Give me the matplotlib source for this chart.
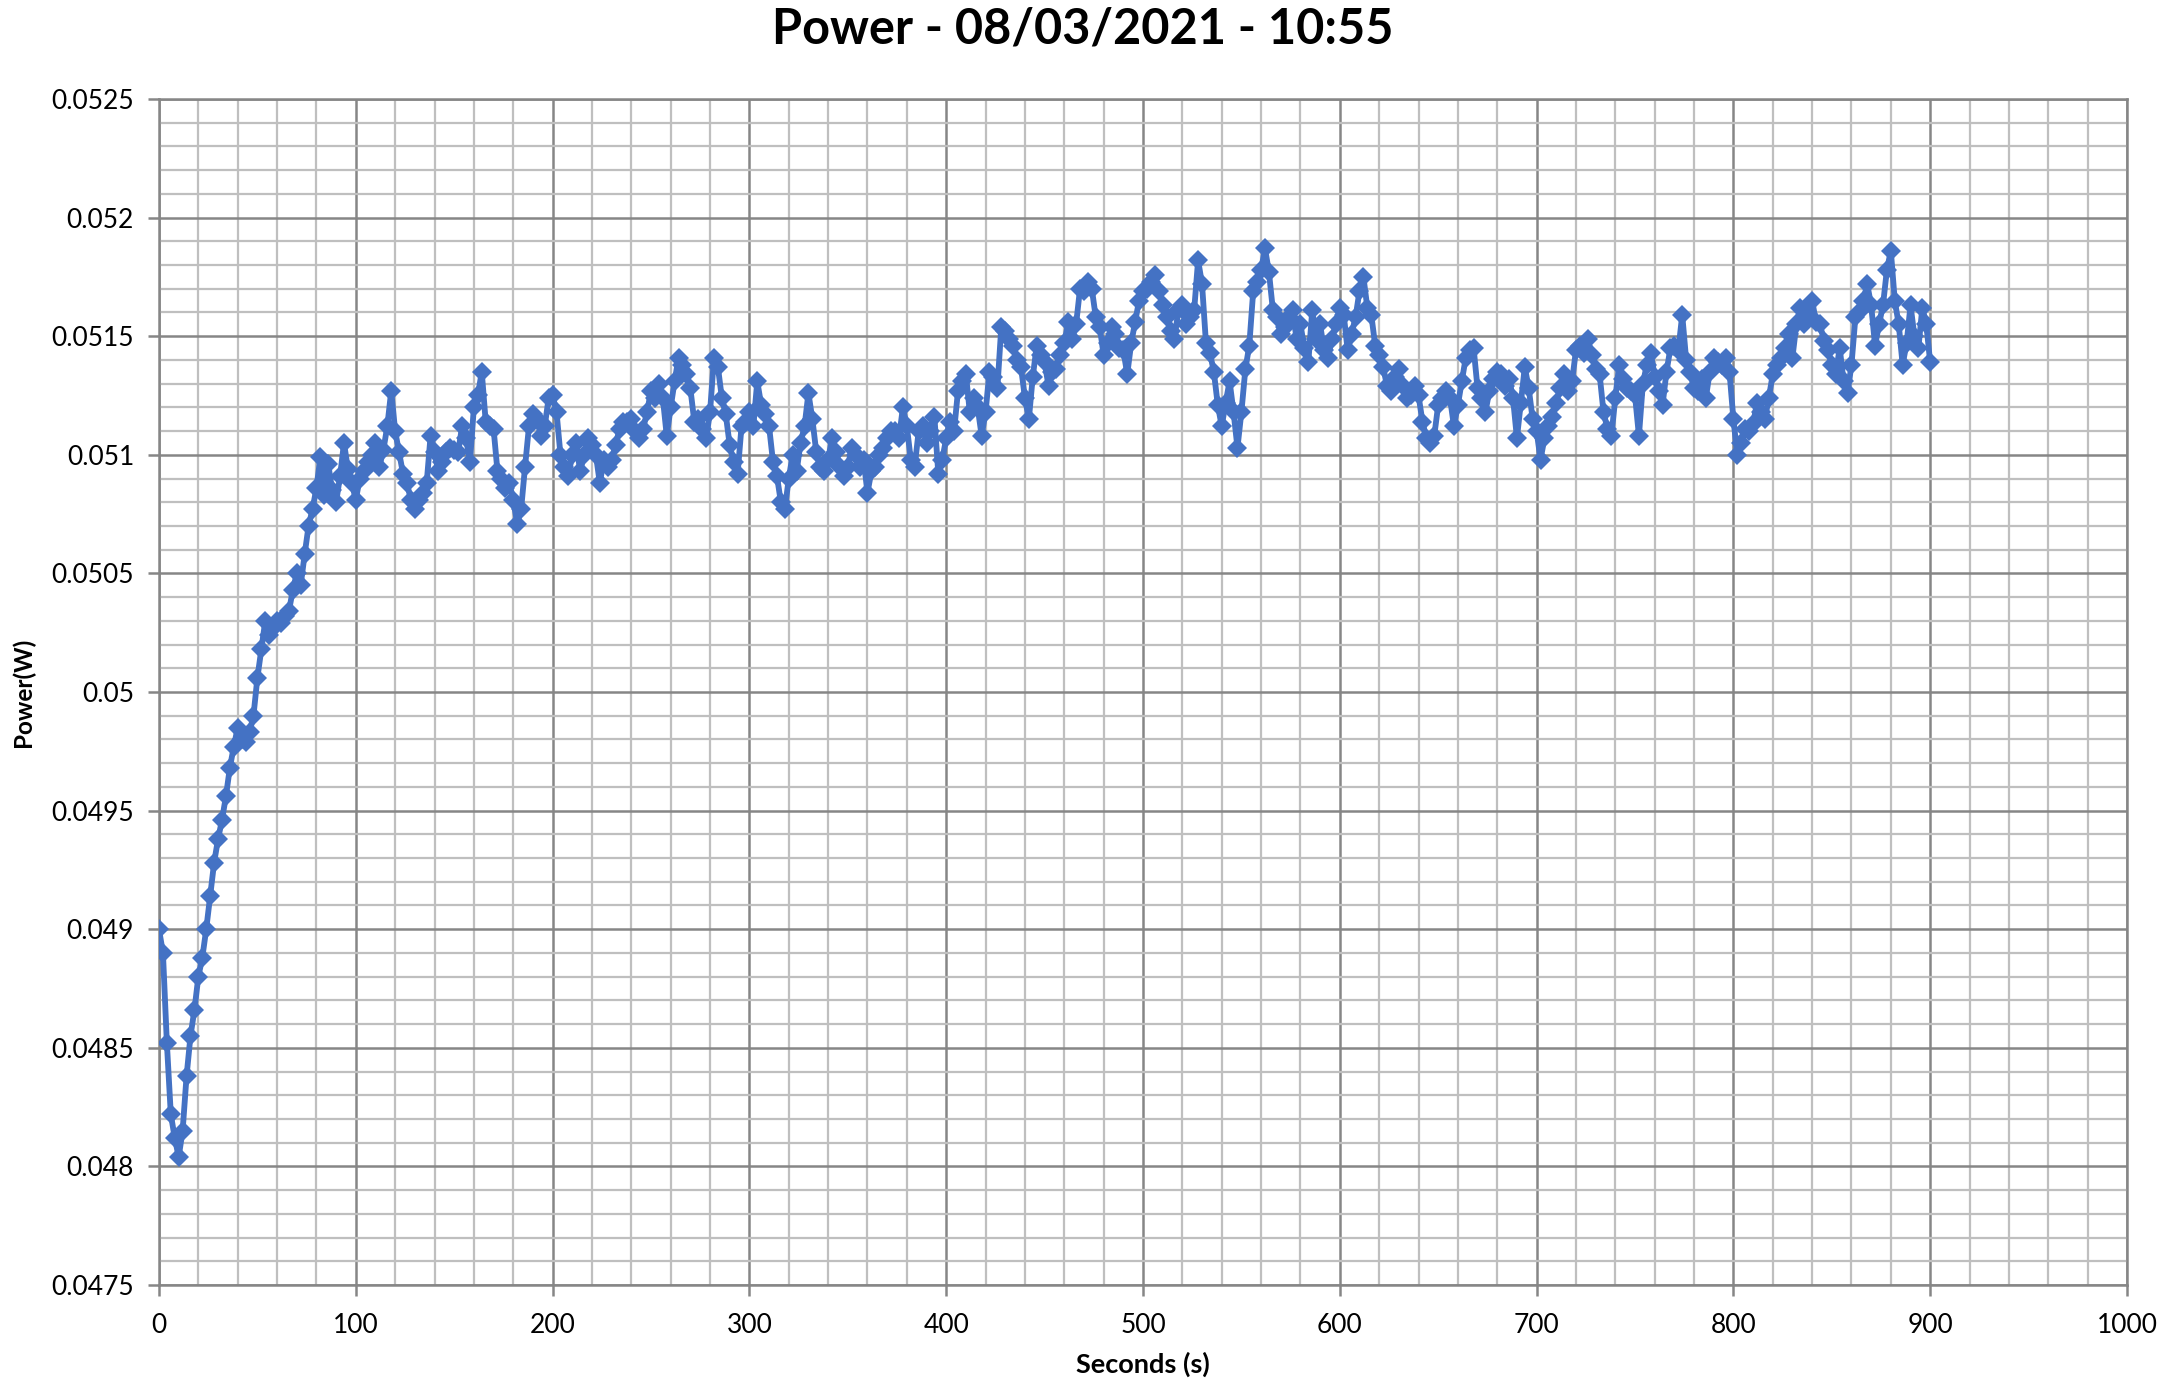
import numpy as np
import matplotlib
matplotlib.use("Agg")
import matplotlib.pyplot as plt
from matplotlib.ticker import MultipleLocator, FuncFormatter

plt.rcParams['font.family'] = ['Lato', 'DejaVu Sans']

title = "Power - 08/03/2021 - 10:55"
x_label = "Seconds (s)"
y_label = "Power(W)"

seconds = np.arange(0, 902, 2)

power = [
    0.04900, 0.04890, 0.04852, 0.04822, 0.04812, 0.04804, 0.04815, 0.04838, 0.04855, 0.04866,
    0.04880, 0.04888, 0.04900, 0.04914, 0.04928, 0.04938, 0.04946, 0.04956, 0.04968, 0.04977,
    0.04985, 0.04980, 0.04979, 0.04983, 0.04990, 0.05006, 0.05018, 0.05030, 0.05024, 0.05027,
    0.05030, 0.05029, 0.05032, 0.05034, 0.05043, 0.05050, 0.05045, 0.05058, 0.05070, 0.05077,
    0.05086, 0.05099, 0.05083, 0.05096, 0.05085, 0.05080, 0.05091, 0.05105, 0.05094, 0.05088,
    0.05081, 0.05090, 0.05093, 0.05097, 0.05100, 0.05105, 0.05095, 0.05102, 0.05112, 0.05127,
    0.05110, 0.05101, 0.05092, 0.05088, 0.05081, 0.05077, 0.05081, 0.05084, 0.05088, 0.05108,
    0.05101, 0.05093, 0.05097, 0.05101, 0.05103, 0.05102, 0.05101, 0.05112, 0.05107, 0.05097,
    0.05120, 0.05125, 0.05135, 0.05114, 0.05112, 0.05111, 0.05093, 0.05090, 0.05086, 0.05088,
    0.05081, 0.05071, 0.05077, 0.05095, 0.05112, 0.05117, 0.05115, 0.05108, 0.05112, 0.05124,
    0.05125, 0.05118, 0.05100, 0.05095, 0.05091, 0.05100, 0.05105, 0.05093, 0.05100, 0.05107,
    0.05104, 0.05100, 0.05088, 0.05098, 0.05095, 0.05098, 0.05104, 0.05111, 0.05114, 0.05114,
    0.05115, 0.05110, 0.05107, 0.05111, 0.05118, 0.05127, 0.05124, 0.05130, 0.05124, 0.05108,
    0.05120, 0.05131, 0.05141, 0.05138, 0.05134, 0.05128, 0.05114, 0.05115, 0.05111, 0.05107,
    0.05118, 0.05141, 0.05137, 0.05124, 0.05117, 0.05104, 0.05097, 0.05092, 0.05112, 0.05114,
    0.05118, 0.05112, 0.05131, 0.05121, 0.05117, 0.05112, 0.05097, 0.05091, 0.05080, 0.05077,
    0.05090, 0.05100, 0.05093, 0.05105, 0.05112, 0.05126, 0.05115, 0.05101, 0.05095, 0.05093,
    0.05098, 0.05107, 0.05101, 0.05095, 0.05091, 0.05095, 0.05103, 0.05100, 0.05095, 0.05098,
    0.05084, 0.05093, 0.05095, 0.05100, 0.05103, 0.05107, 0.05110, 0.05110, 0.05107, 0.05120,
    0.05112, 0.05098, 0.05095, 0.05110, 0.05112, 0.05105, 0.05110, 0.05116, 0.05092, 0.05098,
    0.05107, 0.05114, 0.05110, 0.05127, 0.05131, 0.05134, 0.05118, 0.05124, 0.05120, 0.05108,
    0.05118, 0.05135, 0.05133, 0.05128, 0.05154, 0.05152, 0.05149, 0.05146, 0.05140, 0.05137,
    0.05124, 0.05115, 0.05133, 0.05146, 0.05142, 0.05139, 0.05129, 0.05135, 0.05136, 0.05142,
    0.05147, 0.05156, 0.05149, 0.05155, 0.05170, 0.05169, 0.05173, 0.05170, 0.05158, 0.05154,
    0.05142, 0.05147, 0.05154, 0.05151, 0.05145, 0.05144, 0.05134, 0.05147, 0.05156, 0.05165,
    0.05169, 0.05170, 0.05173, 0.05176, 0.05169, 0.05163, 0.05158, 0.05152, 0.05149, 0.05161,
    0.05163, 0.05155, 0.05158, 0.05161, 0.05182, 0.05172, 0.05147, 0.05143, 0.05135, 0.05121,
    0.05112, 0.05122, 0.05131, 0.05118, 0.05103, 0.05118, 0.05136, 0.05146, 0.05169, 0.05173,
    0.05178, 0.05187, 0.05177, 0.05161, 0.05158, 0.05151, 0.05154, 0.05158, 0.05161, 0.05149,
    0.05155, 0.05145, 0.05139, 0.05161, 0.05149, 0.05155, 0.05144, 0.05141, 0.05149, 0.05155,
    0.05162, 0.05159, 0.05144, 0.05151, 0.05158, 0.05169, 0.05175, 0.05162, 0.05159, 0.05146,
    0.05142, 0.05137, 0.05129, 0.05127, 0.05133, 0.05136, 0.05129, 0.05124, 0.05125, 0.05129,
    0.05125, 0.05114, 0.05107, 0.05105, 0.05108, 0.05121, 0.05124, 0.05127, 0.05124, 0.05112,
    0.05121, 0.05131, 0.05141, 0.05144, 0.05145, 0.05128, 0.05124, 0.05118, 0.05127, 0.05132,
    0.05135, 0.05134, 0.05129, 0.05132, 0.05124, 0.05107, 0.05122, 0.05137, 0.05128, 0.05115,
    0.05110, 0.05098, 0.05107, 0.05112, 0.05116, 0.05122, 0.05128, 0.05134, 0.05127, 0.05131,
    0.05144, 0.05146, 0.05143, 0.05149, 0.05142, 0.05136, 0.05134, 0.05118, 0.05111, 0.05108,
    0.05124, 0.05138, 0.05132, 0.05128, 0.05127, 0.05125, 0.05108, 0.05130, 0.05138, 0.05143,
    0.05133, 0.05127, 0.05121, 0.05135, 0.05145, 0.05146, 0.05144, 0.05159, 0.05140, 0.05135,
    0.05128, 0.05127, 0.05132, 0.05124, 0.05135, 0.05141, 0.05139, 0.05138, 0.05141, 0.05135,
    0.05115, 0.05100, 0.05105, 0.05111, 0.05110, 0.05113, 0.05122, 0.05118, 0.05115, 0.05124,
    0.05134, 0.05138, 0.05141, 0.05145, 0.05151, 0.05141, 0.05155, 0.05162, 0.05155, 0.05158,
    0.05165, 0.05156, 0.05155, 0.05148, 0.05144, 0.05138, 0.05134, 0.05145, 0.05131, 0.05126,
    0.05138, 0.05158, 0.05160, 0.05165, 0.05172, 0.05163, 0.05146, 0.05155, 0.05163, 0.05178,
    0.05186, 0.05165, 0.05155, 0.05138, 0.05147, 0.05163, 0.05150, 0.05145, 0.05162, 0.05155,
    0.05139,
]

line_color = "#4472C4"
major_grid = "#868686"
minor_grid = "#BFBFBF"

fig = plt.figure(figsize=(21.65, 13.92), dpi=100)
ax = fig.add_axes([159 / 2165, 1 - 1285 / 1392, (2127 - 159) / 2165, (1285 - 99) / 1392])

ax.plot(seconds, power, color=line_color, lw=4.2, marker="D", ms=10.5,
        markeredgewidth=0, zorder=3)

ax.set_xlim(0, 1000)
ax.set_ylim(0.0475, 0.0525)
ax.xaxis.set_major_locator(MultipleLocator(100))
ax.xaxis.set_minor_locator(MultipleLocator(20))
ax.yaxis.set_major_locator(MultipleLocator(0.0005))
ax.yaxis.set_minor_locator(MultipleLocator(0.0001))
ax.yaxis.set_major_formatter(FuncFormatter(lambda v, p: ("%.4f" % v).rstrip("0").rstrip(".")))

ax.grid(which="minor", color=minor_grid, lw=1.6, zorder=0)
ax.grid(which="major", color=major_grid, lw=1.8, zorder=1)
ax.set_axisbelow(True)
for s in ax.spines.values():
    s.set_color(major_grid)
    s.set_linewidth(1.8)

ax.tick_params(which="major", length=8, width=1.8, color=major_grid,
               labelsize=19, labelcolor="black", pad=10)
ax.tick_params(which="minor", length=0)
ax.tick_params(axis="x", pad=12)

ax.set_xlabel(x_label, fontsize=19.5, fontweight="bold", labelpad=10)
ax.set_ylabel(y_label, fontsize=17.5, fontweight="bold", labelpad=12)
fig.suptitle(title, fontsize=35, fontweight="bold", y=0.995)

fig.savefig("out.png", dpi=100, facecolor="white")
